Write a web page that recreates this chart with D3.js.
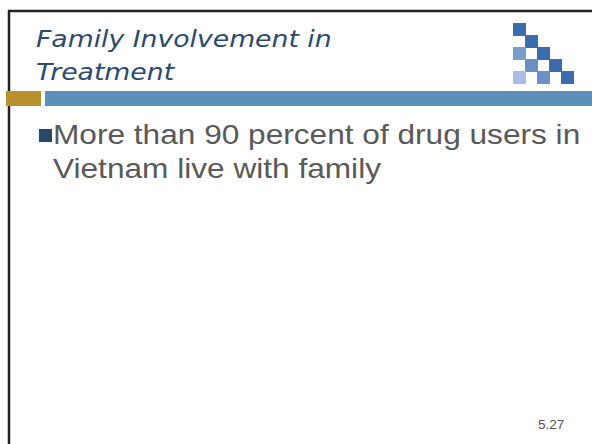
<!DOCTYPE html>
<html>
<head>
<meta charset="utf-8">
<script src="https://cdn.jsdelivr.net/npm/d3@7"></script>
<style>
  body { margin: 0; background: #fff; }
  svg { display: block; }
</style>
</head>
<body>
<div id="slide"></div>
<script>
const titleLines = ['Family Involvement in', 'Treatment'];
const bulletLines = ['More than 90 percent of drug users in', 'Vietnam live with family'];
const pageNumber = '5.27';

// logo cells: column, row, shade
const logoCols = [0, 1, 0, 2, 1, 3, 0, 2, 4];
const logoRows = [0, 1, 2, 2, 3, 3, 4, 4, 4];
const logoShades = ['dark', 'dark', 'mid', 'dark', 'mid2', 'dark', 'light', 'mid2', 'dark'];

const width = 592, height = 444;

const svg = d3.select('#slide')
    .append('svg')
    .attr('width', width)
    .attr('height', height);

// frame (top + left edges)
svg.append('line')
    .attr('x1', 8).attr('x2', width)
    .attr('y1', 11).attr('y2', 11)
    .attr('stroke', '#222').attr('stroke-width', 2.5);
svg.append('line')
    .attr('x1', 9).attr('x2', 9)
    .attr('y1', 10).attr('y2', height)
    .attr('stroke', '#222').attr('stroke-width', 2.5);

// title
const title = svg.append('g')
    .attr('transform', 'translate(36, 47) scale(1.16, 1)');
title.selectAll('text')
    .data(titleLines)
    .enter()
    .append('text')
    .attr('x', 0)
    .attr('y', (d, i) => i * 33)
    .attr('font-family', 'DejaVu Sans, Verdana, sans-serif')
    .attr('font-style', 'italic')
    .attr('font-size', '23px')
    .attr('fill', '#2c4a6b')
    .text(d => d);

// logo
const logoX = d3.scaleLinear().domain([0, 4]).range([513, 561]);
const logoY = d3.scaleLinear().domain([0, 4]).range([23, 71]);
const shadeColor = d3.scaleOrdinal()
    .domain(['dark', 'mid', 'mid2', 'light'])
    .range(['#3a6cae', '#7b9bc9', '#6d8fc6', '#a9bde0']);

svg.append('g').selectAll('rect')
    .data(logoCols.map((c, i) => ({col: c, row: logoRows[i], shade: logoShades[i]})))
    .enter()
    .append('rect')
    .attr('x', d => logoX(d.col))
    .attr('y', d => logoY(d.row))
    .attr('width', 13)
    .attr('height', 13)
    .attr('fill', d => shadeColor(d.shade));

// divider bars
svg.append('rect')
    .attr('x', 6).attr('y', 91)
    .attr('width', 35).attr('height', 15)
    .attr('fill', '#b8902e');
svg.append('rect')
    .attr('x', 45).attr('y', 91)
    .attr('width', width - 45).attr('height', 15)
    .attr('fill', '#5d8fba');

// bullet
svg.append('rect')
    .attr('x', 39).attr('y', 129)
    .attr('width', 13).attr('height', 13)
    .attr('fill', '#2b4766');

const body = svg.append('g')
    .attr('transform', 'translate(53, 144) scale(1.15, 1)');
body.selectAll('text')
    .data(bulletLines)
    .enter()
    .append('text')
    .attr('x', 0)
    .attr('y', (d, i) => i * 34)
    .attr('font-family', 'Liberation Sans, Arial, sans-serif')
    .attr('font-size', '27.5px')
    .attr('fill', '#595959')
    .text(d => d);

// page number
svg.append('text')
    .attr('transform', 'translate(538, 429) scale(1.13, 1)')
    .attr('font-family', 'Liberation Sans, Arial, sans-serif')
    .attr('font-size', '12px')
    .attr('fill', '#555')
    .text(pageNumber);
</script>
</body>
</html>
